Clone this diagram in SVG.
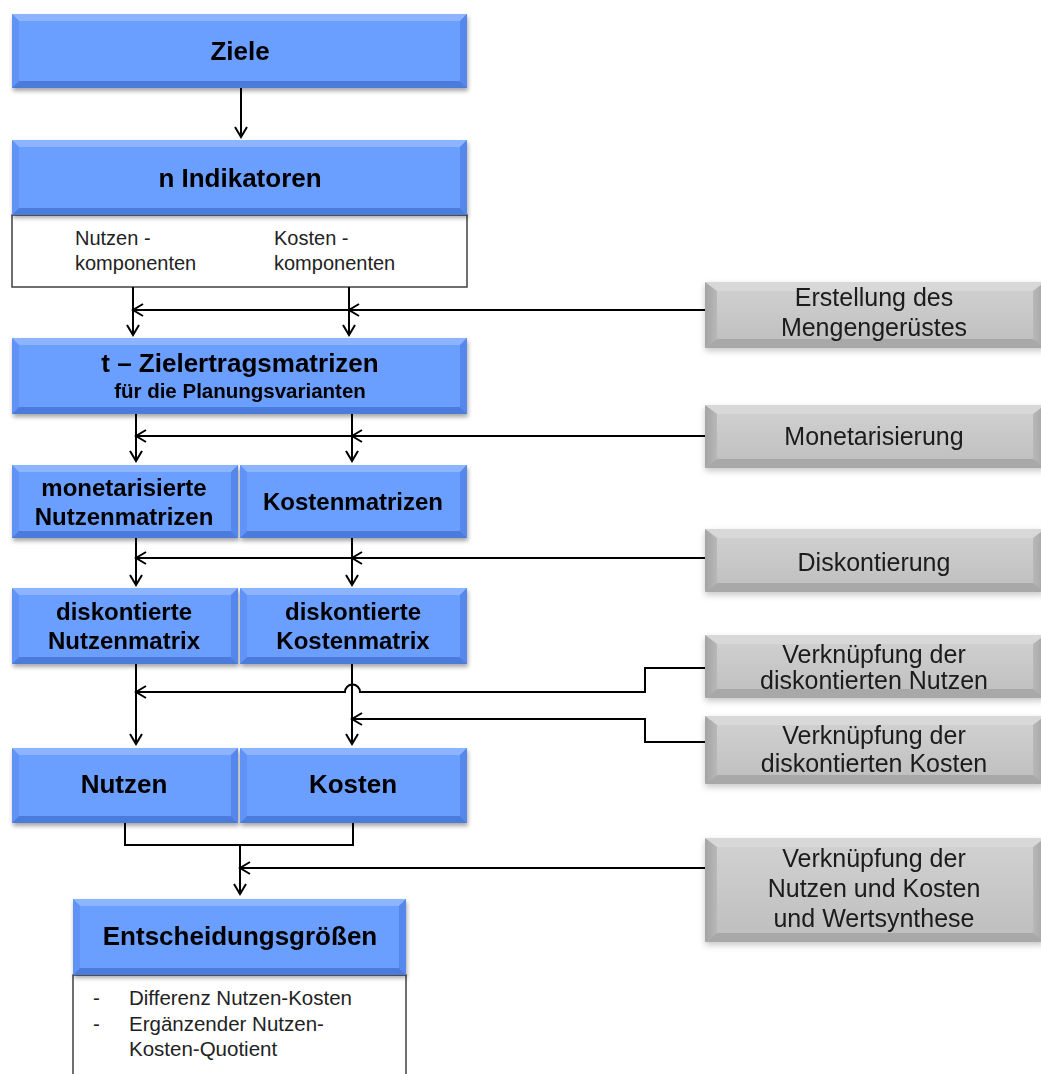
<svg xmlns="http://www.w3.org/2000/svg" width="1041" height="1074" viewBox="0 0 1041 1074">
<style>
.main{fill:#6A9EFF}
.bt{fill:#8DB5FF}
.bl{fill:#6093F5}
.br{fill:#5787EC}
.bb{fill:#4C7BDC}
.gmain{fill:url(#gg)}
.gt{fill:#D8D8D8}
.gl{fill:url(#glg)}
.gr{fill:url(#grg)}
.gb{fill:#A8A8A8}
.white{fill:#FFFFFF;stroke:#404040;stroke-width:1.5}
.t1{font-family:"Liberation Sans",Arial,sans-serif;font-weight:bold;font-size:26px;fill:#000;text-anchor:middle}
.t2{font-family:"Liberation Sans",Arial,sans-serif;font-weight:bold;font-size:24px;fill:#000;text-anchor:middle}
.t3{font-family:"Liberation Sans",Arial,sans-serif;font-weight:bold;font-size:20.5px;fill:#000;text-anchor:middle}
.tr{font-family:"Liberation Sans",Arial,sans-serif;font-size:20px;fill:#222}
.tl{font-family:"Liberation Sans",Arial,sans-serif;font-size:20.5px;fill:#222}
.tg{font-family:"Liberation Sans",Arial,sans-serif;font-size:25px;fill:#1a1a1a;text-anchor:middle}
.conn path{fill:none;stroke:#000;stroke-width:2}
.arr{marker-end:url(#ah)}
</style>
<defs>
<linearGradient id="gg" x1="0" y1="0" x2="0" y2="1">
<stop offset="0" stop-color="#D2D2D2"/>
<stop offset="1" stop-color="#BEBEBE"/>
</linearGradient>
<linearGradient id="glg" x1="0" y1="0" x2="1" y2="0">
<stop offset="0" stop-color="#A4A4A4"/>
<stop offset="1" stop-color="#B8B8B8"/>
</linearGradient>
<linearGradient id="grg" x1="0" y1="0" x2="1" y2="0">
<stop offset="0" stop-color="#B8B8B8"/>
<stop offset="1" stop-color="#A4A4A4"/>
</linearGradient>
<filter id="sh" x="-5%" y="-10%" width="110%" height="130%">
<feDropShadow dx="1" dy="3" stdDeviation="2" flood-color="#000" flood-opacity="0.35"/>
</filter>
<filter id="gsh" x="-5%" y="-15%" width="110%" height="140%">
<feDropShadow dx="0" dy="3" stdDeviation="3" flood-color="#000" flood-opacity="0.22"/>
</filter>
<marker id="ah" markerUnits="userSpaceOnUse" markerWidth="14" markerHeight="14" viewBox="0 0 14 14" refX="12" refY="7" orient="auto">
<path d="M2,1 L12,7 L2,13" fill="none" stroke="#000" stroke-width="2"/>
</marker>
</defs>

<g id="ziele" filter="url(#sh)">
<rect class="main" x="12" y="14" width="455" height="74"/>
<polygon class="bt" points="12,14 467,14 460,21 19,21"/>
<polygon class="bl" points="12,14 19,21 19,81 12,88"/>
<polygon class="br" points="467,14 460,21 460,81 467,88"/>
<polygon class="bb" points="12,88 467,88 460,81 19,81"/>
<text class="t1" x="240" y="60">Ziele</text>
</g>

<g id="indikatoren">
<rect class="white" x="12" y="215" width="455" height="72"/>
<text class="tr" x="75" y="245">Nutzen  -</text>
<text class="tr" x="75" y="270">komponenten</text>
<text class="tr" x="274" y="245">Kosten  -</text>
<text class="tr" x="274" y="270">komponenten</text>
<g filter="url(#sh)">
<rect class="main" x="12" y="140" width="455" height="75"/>
<polygon class="bt" points="12,140 467,140 460,147 19,147"/>
<polygon class="bl" points="12,140 19,147 19,208 12,215"/>
<polygon class="br" points="467,140 460,147 460,208 467,215"/>
<polygon class="bb" points="12,215 467,215 460,208 19,208"/>
<text class="t1" x="240" y="187">n Indikatoren</text>
</g>
</g>

<g id="zielertrag" filter="url(#sh)">
<rect class="main" x="12" y="338" width="455" height="76"/>
<polygon class="bt" points="12,338 467,338 460,345 19,345"/>
<polygon class="bl" points="12,338 19,345 19,407 12,414"/>
<polygon class="br" points="467,338 460,345 460,407 467,414"/>
<polygon class="bb" points="12,414 467,414 460,407 19,407"/>
<text class="t1" x="240" y="372">t – Zielertragsmatrizen</text>
<text class="t3" x="240" y="398">für die Planungsvarianten</text>
</g>

<g id="monet-nutzen" filter="url(#sh)">
<rect class="main" x="12" y="465" width="226" height="73"/>
<polygon class="bt" points="12,465 238,465 231,472 19,472"/>
<polygon class="bl" points="12,465 19,472 19,531 12,538"/>
<polygon class="br" points="238,465 231,472 231,531 238,538"/>
<polygon class="bb" points="12,538 238,538 231,531 19,531"/>
<text class="t2" x="124" y="496">monetarisierte</text>
<text class="t2" x="124" y="525">Nutzenmatrizen</text>
</g>
<g id="kostenmatrizen" filter="url(#sh)">
<rect class="main" x="240" y="465" width="227" height="73"/>
<polygon class="bt" points="240,465 467,465 460,472 247,472"/>
<polygon class="bl" points="240,465 247,472 247,531 240,538"/>
<polygon class="br" points="467,465 460,472 460,531 467,538"/>
<polygon class="bb" points="240,538 467,538 460,531 247,531"/>
<text class="t2" x="353" y="510">Kostenmatrizen</text>
</g>

<g id="disk-nutzen" filter="url(#sh)">
<rect class="main" x="12" y="588" width="226" height="76"/>
<polygon class="bt" points="12,588 238,588 231,595 19,595"/>
<polygon class="bl" points="12,588 19,595 19,657 12,664"/>
<polygon class="br" points="238,588 231,595 231,657 238,664"/>
<polygon class="bb" points="12,664 238,664 231,657 19,657"/>
<text class="t2" x="124" y="620">diskontierte</text>
<text class="t2" x="124" y="649">Nutzenmatrix</text>
</g>
<g id="disk-kosten" filter="url(#sh)">
<rect class="main" x="240" y="588" width="227" height="76"/>
<polygon class="bt" points="240,588 467,588 460,595 247,595"/>
<polygon class="bl" points="240,588 247,595 247,657 240,664"/>
<polygon class="br" points="467,588 460,595 460,657 467,664"/>
<polygon class="bb" points="240,664 467,664 460,657 247,657"/>
<text class="t2" x="353" y="620">diskontierte</text>
<text class="t2" x="353" y="649">Kostenmatrix</text>
</g>

<g id="nutzen" filter="url(#sh)">
<rect class="main" x="12" y="748" width="226" height="75"/>
<polygon class="bt" points="12,748 238,748 231,755 19,755"/>
<polygon class="bl" points="12,748 19,755 19,816 12,823"/>
<polygon class="br" points="238,748 231,755 231,816 238,823"/>
<polygon class="bb" points="12,823 238,823 231,816 19,816"/>
<text class="t1" x="124" y="793">Nutzen</text>
</g>
<g id="kosten" filter="url(#sh)">
<rect class="main" x="240" y="748" width="227" height="75"/>
<polygon class="bt" points="240,748 467,748 460,755 247,755"/>
<polygon class="bl" points="240,748 247,755 247,816 240,823"/>
<polygon class="br" points="467,748 460,755 460,816 467,823"/>
<polygon class="bb" points="240,823 467,823 460,816 247,816"/>
<text class="t1" x="353" y="793">Kosten</text>
</g>

<g id="entscheidung">
<rect class="white" x="73" y="975" width="333" height="110"/>
<text class="tl" x="93" y="1005">-</text>
<text class="tl" x="129" y="1005">Differenz Nutzen-Kosten</text>
<text class="tl" x="93" y="1031">-</text>
<text class="tl" x="129" y="1031">Ergänzender  Nutzen-</text>
<text class="tl" x="129" y="1056">Kosten-Quotient</text>
<g filter="url(#sh)">
<rect class="main" x="73" y="899" width="333" height="76"/>
<polygon class="bt" points="73,899 406,899 399,906 80,906"/>
<polygon class="bl" points="73,899 80,906 80,968 73,975"/>
<polygon class="br" points="406,899 399,906 399,968 406,975"/>
<polygon class="bb" points="73,975 406,975 399,968 80,968"/>
<text class="t1" x="240" y="945">Entscheidungsgrößen</text>
</g>
</g>

<g id="g-erstellung" filter="url(#gsh)">
<rect class="gmain" x="705" y="282" width="340" height="66" rx="4"/>
<polygon class="gt" points="705,282 1045,282 1033,291 717,291"/>
<polygon class="gl" points="705,282 717,291 717,339 705,348"/>
<polygon class="gr" points="1045,282 1033,291 1033,339 1045,348"/>
<polygon class="gb" points="705,348 1045,348 1033,339 717,339"/>
<text class="tg" x="874" y="306">Erstellung des</text>
<text class="tg" x="874" y="336">Mengengerüstes</text>
</g>
<g id="g-monet" filter="url(#gsh)">
<rect class="gmain" x="705" y="405" width="340" height="63" rx="4"/>
<polygon class="gt" points="705,405 1045,405 1033,414 717,414"/>
<polygon class="gl" points="705,405 717,414 717,459 705,468"/>
<polygon class="gr" points="1045,405 1033,414 1033,459 1045,468"/>
<polygon class="gb" points="705,468 1045,468 1033,459 717,459"/>
<text class="tg" x="874" y="445">Monetarisierung</text>
</g>
<g id="g-disk" filter="url(#gsh)">
<rect class="gmain" x="705" y="529" width="340" height="63" rx="4"/>
<polygon class="gt" points="705,529 1045,529 1033,538 717,538"/>
<polygon class="gl" points="705,529 717,538 717,583 705,592"/>
<polygon class="gr" points="1045,529 1033,538 1033,583 1045,592"/>
<polygon class="gb" points="705,592 1045,592 1033,583 717,583"/>
<text class="tg" x="874" y="571">Diskontierung</text>
</g>
<g id="g-vnutzen" filter="url(#gsh)">
<rect class="gmain" x="705" y="635" width="340" height="63" rx="4"/>
<polygon class="gt" points="705,635 1045,635 1033,644 717,644"/>
<polygon class="gl" points="705,635 717,644 717,689 705,698"/>
<polygon class="gr" points="1045,635 1033,644 1033,689 1045,698"/>
<polygon class="gb" points="705,698 1045,698 1033,689 717,689"/>
<text class="tg" x="874" y="663">Verknüpfung  der</text>
<text class="tg" x="874" y="689">diskontierten Nutzen</text>
</g>
<g id="g-vkosten" filter="url(#gsh)">
<rect class="gmain" x="705" y="716" width="340" height="68" rx="4"/>
<polygon class="gt" points="705,716 1045,716 1033,725 717,725"/>
<polygon class="gl" points="705,716 717,725 717,775 705,784"/>
<polygon class="gr" points="1045,716 1033,725 1033,775 1045,784"/>
<polygon class="gb" points="705,784 1045,784 1033,775 717,775"/>
<text class="tg" x="874" y="744">Verknüpfung  der</text>
<text class="tg" x="874" y="772">diskontierten Kosten</text>
</g>
<g id="g-vnk" filter="url(#gsh)">
<rect class="gmain" x="705" y="838" width="340" height="104" rx="4"/>
<polygon class="gt" points="705,838 1045,838 1033,847 717,847"/>
<polygon class="gl" points="705,838 717,847 717,933 705,942"/>
<polygon class="gr" points="1045,838 1033,847 1033,933 1045,942"/>
<polygon class="gb" points="705,942 1045,942 1033,933 717,933"/>
<text class="tg" x="874" y="867">Verknüpfung der</text>
<text class="tg" x="874" y="897">Nutzen und Kosten</text>
<text class="tg" x="874" y="927">und Wertsynthese</text>
</g>

<g id="connectors" class="conn">
<path class="arr" d="M241,88 V137"/>
<path class="arr" d="M133,287 V335"/>
<path class="arr" d="M349,287 V335"/>
<path class="arr" d="M705,310 H349"/>
<path class="arr" d="M349,310 H133"/>
<path class="arr" d="M136,414 V461"/>
<path class="arr" d="M352,414 V461"/>
<path class="arr" d="M705,436 H352"/>
<path class="arr" d="M352,436 H136"/>
<path class="arr" d="M136,538 V585"/>
<path class="arr" d="M352,538 V585"/>
<path class="arr" d="M705,558 H352"/>
<path class="arr" d="M352,558 H136"/>
<path class="arr" d="M136,664 V744"/>
<path class="arr" d="M352,664 V744"/>
<path class="arr" d="M705,668 H645 V692 H360 A7.5,7.5 0 0 0 345,692 H136"/>
<path class="arr" d="M705,742 H645 V719 H352"/>
<path d="M125,823 V845 H353 V823"/>
<path class="arr" d="M240,845 V894"/>
<path class="arr" d="M705,868 H240"/>
</g>
</svg>
